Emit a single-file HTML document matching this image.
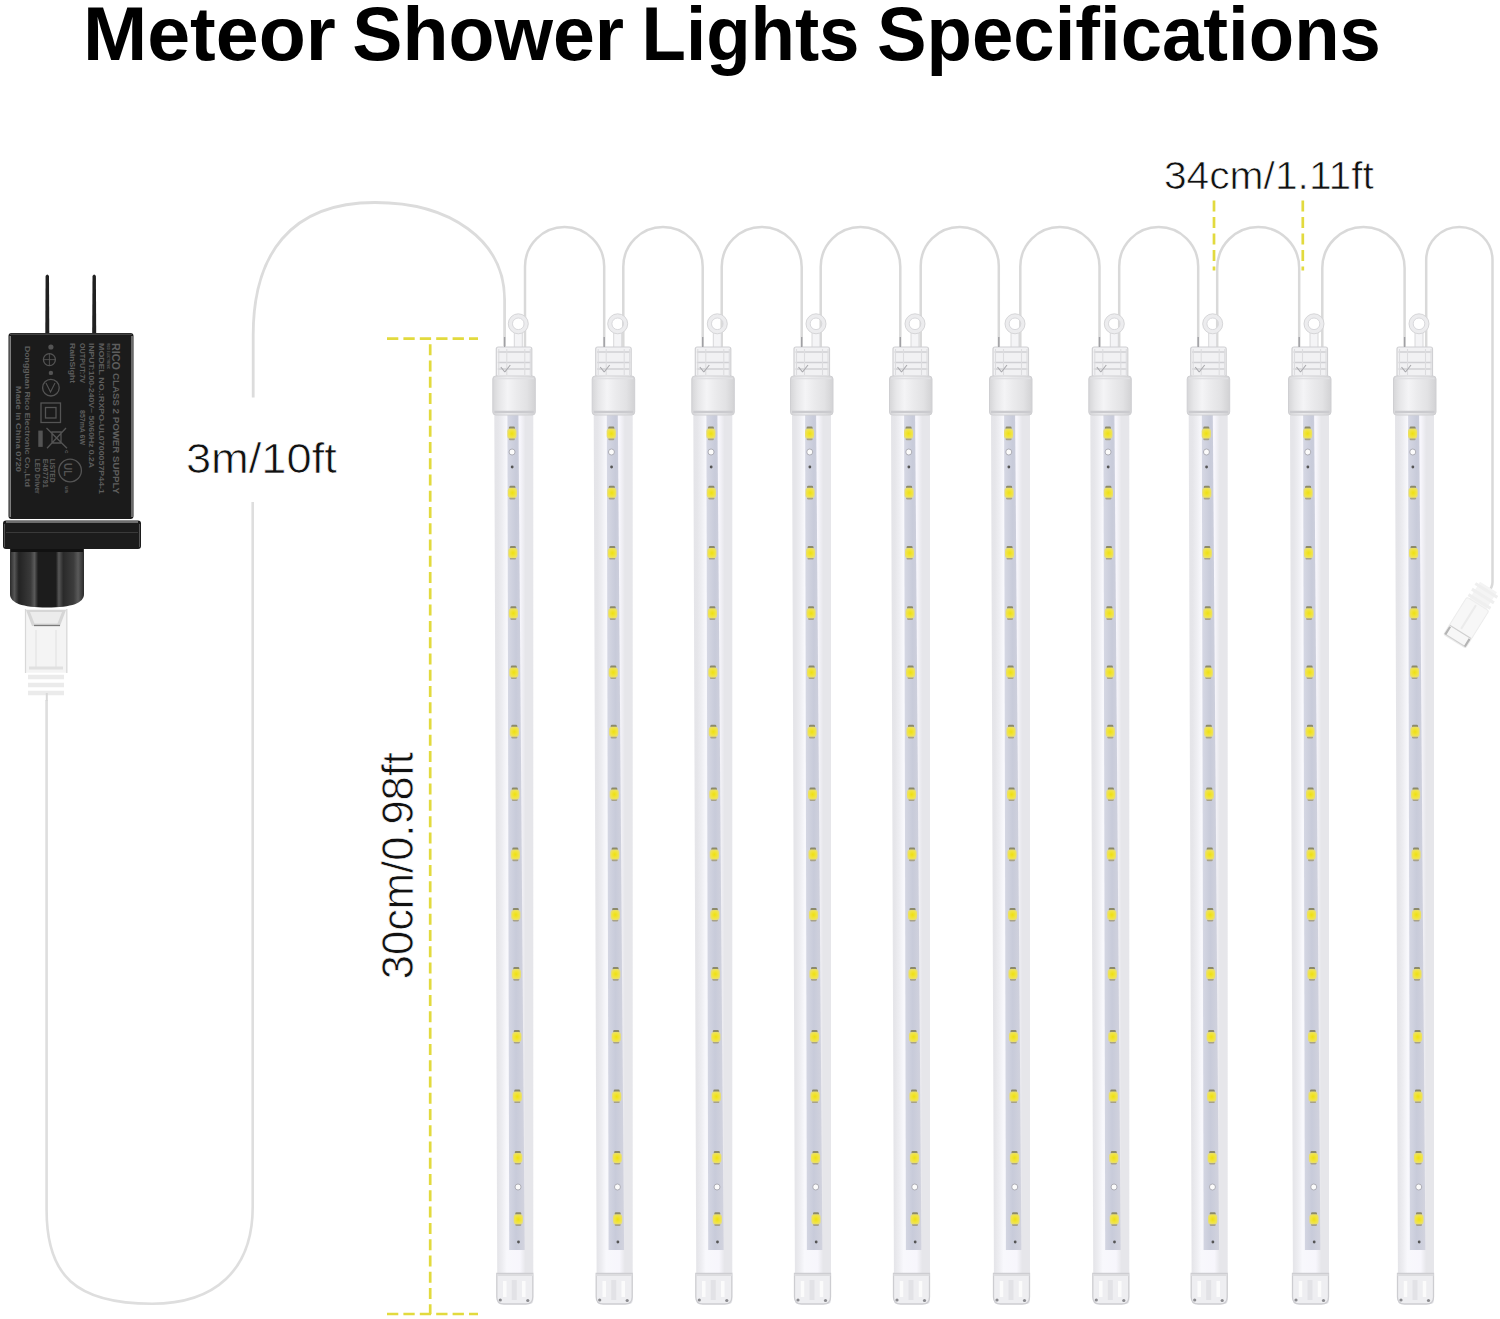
<!DOCTYPE html>
<html><head><meta charset="utf-8"><style>
html,body{margin:0;padding:0;background:#fff;width:1500px;height:1319px;overflow:hidden}
svg{position:absolute;left:0;top:0}
text{font-family:"Liberation Sans",sans-serif}
</style></head><body>
<svg width="1500" height="1319" viewBox="0 0 1500 1319">
<defs>
<linearGradient id="tubeg" x1="0" x2="1" y1="0" y2="0">
<stop offset="0" stop-color="#e4e4e8"/><stop offset="0.1" stop-color="#e6e6ea"/><stop offset="0.2" stop-color="#ededf1"/>
<stop offset="0.32" stop-color="#f8f8fc"/><stop offset="0.66" stop-color="#f7f6fc"/><stop offset="0.8" stop-color="#e6e6ea"/><stop offset="1" stop-color="#e6e6ea"/>
</linearGradient>
<linearGradient id="stripg" x1="0" x2="1" y1="0" y2="0">
<stop offset="0" stop-color="#d6d8e4"/><stop offset="0.5" stop-color="#c8cbda"/><stop offset="1" stop-color="#d2d3de"/>
</linearGradient>
<linearGradient id="collarg" x1="0" x2="1" y1="0" y2="0">
<stop offset="0" stop-color="#d6d6d8"/><stop offset="0.15" stop-color="#e6e6e8"/><stop offset="0.35" stop-color="#f4f4f6"/><stop offset="0.55" stop-color="#ebebed"/><stop offset="0.8" stop-color="#e2e2e4"/><stop offset="1" stop-color="#d2d2d4"/>
</linearGradient>
<linearGradient id="cylg" x1="0" x2="1" y1="0" y2="0">
<stop offset="0" stop-color="#2a2a2a"/><stop offset="0.06" stop-color="#555"/><stop offset="0.12" stop-color="#232323"/>
<stop offset="0.28" stop-color="#3a3a3a"/><stop offset="0.33" stop-color="#5a5a5a"/><stop offset="0.38" stop-color="#1c1c1c"/>
<stop offset="0.62" stop-color="#1c1c1c"/><stop offset="0.66" stop-color="#575757"/><stop offset="0.72" stop-color="#2a2a2a"/>
<stop offset="0.86" stop-color="#3c3c3c"/><stop offset="0.92" stop-color="#5a5a5a"/><stop offset="1" stop-color="#2a2a2a"/>
</linearGradient>
<radialGradient id="ledg" cx="0.5" cy="0.5" r="0.6">
<stop offset="0" stop-color="#eee010"/><stop offset="0.55" stop-color="#f1e440"/><stop offset="1" stop-color="#e4dc88"/>
</radialGradient>
<g id="tube">
<path d="M0.5 331 L0.5 348 L8.5 348 L8.5 331 Z" fill="#f4f4f6" stroke="#d8d8da" stroke-width="1"/>
<circle cx="4.5" cy="323.8" r="7.9" fill="none" stroke="#ececee" stroke-width="4.4"/>
<circle cx="4.5" cy="323.8" r="10" fill="none" stroke="#d2d2d5" stroke-width="0.9"/>
<circle cx="4.5" cy="323.8" r="5.8" fill="none" stroke="#d6d6d9" stroke-width="0.9"/>
<rect x="-17.5" y="347" width="35.5" height="30" rx="2" fill="#f1f1f3" stroke="#d0d0d3" stroke-width="1.2"/>
<path d="M-16 352 H17 M-16 362.5 H17 M-16 369 H17" stroke="#cfcfd3" stroke-width="1.3"/>
<path d="M-15 349 V375 M-7 349 V375 M11 349 V375 M16.5 349 V375" stroke="#dcdcdf" stroke-width="1.1"/>
<path d="M-9 372 L-3.5 365 M-9 372 L-13 367" stroke="#a8a8ac" stroke-width="1.1"/>
<path d="M-19.5 412 H19.5 V1300 Q19.5 1304 16 1304 H-13 Q-16.5 1304 -16.5 1300 Z" fill="url(#tubeg)"/>
<path d="M-6.4 414 H4.6 L10.9 1250 H-4.6 Z" fill="url(#stripg)"/>
<rect x="-21" y="376" width="42.5" height="39" rx="3" fill="url(#collarg)" stroke="#cfcfd2" stroke-width="1"/>
<path d="M-19.5 412 H20" stroke="#cacace" stroke-width="2.4"/>
<path d="M-19.5 378.5 H20" stroke="#e0e0e3" stroke-width="1.6"/>
<rect x="-4.90" y="426.6" width="6" height="3" rx="1.2" fill="#8c8a6a"/>
<rect x="-4.90" y="437.6" width="6" height="2.6" rx="1.2" fill="#a8a288"/>
<rect x="-6.50" y="428.6" width="9.2" height="10" rx="2.6" fill="url(#ledg)"/>
<rect x="-4.41" y="485.8" width="6" height="3" rx="1.2" fill="#8c8a6a"/>
<rect x="-4.41" y="496.8" width="6" height="2.6" rx="1.2" fill="#a8a288"/>
<rect x="-6.01" y="487.8" width="9.2" height="10" rx="2.6" fill="url(#ledg)"/>
<rect x="-3.92" y="546.0" width="6" height="3" rx="1.2" fill="#8c8a6a"/>
<rect x="-3.92" y="557.0" width="6" height="2.6" rx="1.2" fill="#a8a288"/>
<rect x="-5.52" y="548.0" width="9.2" height="10" rx="2.6" fill="url(#ledg)"/>
<rect x="-3.43" y="606.3" width="6" height="3" rx="1.2" fill="#8c8a6a"/>
<rect x="-3.43" y="617.3" width="6" height="2.6" rx="1.2" fill="#a8a288"/>
<rect x="-5.03" y="608.3" width="9.2" height="10" rx="2.6" fill="url(#ledg)"/>
<rect x="-2.95" y="665.4" width="6" height="3" rx="1.2" fill="#8c8a6a"/>
<rect x="-2.95" y="676.4" width="6" height="2.6" rx="1.2" fill="#a8a288"/>
<rect x="-4.55" y="667.4" width="9.2" height="10" rx="2.6" fill="url(#ledg)"/>
<rect x="-2.47" y="724.8" width="6" height="3" rx="1.2" fill="#8c8a6a"/>
<rect x="-2.47" y="735.8" width="6" height="2.6" rx="1.2" fill="#a8a288"/>
<rect x="-4.07" y="726.8" width="9.2" height="10" rx="2.6" fill="url(#ledg)"/>
<rect x="-1.96" y="787.4" width="6" height="3" rx="1.2" fill="#8c8a6a"/>
<rect x="-1.96" y="798.4" width="6" height="2.6" rx="1.2" fill="#a8a288"/>
<rect x="-3.56" y="789.4" width="9.2" height="10" rx="2.6" fill="url(#ledg)"/>
<rect x="-1.47" y="847.6" width="6" height="3" rx="1.2" fill="#8c8a6a"/>
<rect x="-1.47" y="858.6" width="6" height="2.6" rx="1.2" fill="#a8a288"/>
<rect x="-3.07" y="849.6" width="9.2" height="10" rx="2.6" fill="url(#ledg)"/>
<rect x="-0.98" y="907.9" width="6" height="3" rx="1.2" fill="#8c8a6a"/>
<rect x="-0.98" y="918.9" width="6" height="2.6" rx="1.2" fill="#a8a288"/>
<rect x="-2.58" y="909.9" width="9.2" height="10" rx="2.6" fill="url(#ledg)"/>
<rect x="-0.50" y="967.1" width="6" height="3" rx="1.2" fill="#8c8a6a"/>
<rect x="-0.50" y="978.1" width="6" height="2.6" rx="1.2" fill="#a8a288"/>
<rect x="-2.10" y="969.1" width="9.2" height="10" rx="2.6" fill="url(#ledg)"/>
<rect x="0.02" y="1029.9" width="6" height="3" rx="1.2" fill="#8c8a6a"/>
<rect x="0.02" y="1040.9" width="6" height="2.6" rx="1.2" fill="#a8a288"/>
<rect x="-1.58" y="1031.9" width="9.2" height="10" rx="2.6" fill="url(#ledg)"/>
<rect x="0.50" y="1089.5" width="6" height="3" rx="1.2" fill="#8c8a6a"/>
<rect x="0.50" y="1100.5" width="6" height="2.6" rx="1.2" fill="#a8a288"/>
<rect x="-1.10" y="1091.5" width="9.2" height="10" rx="2.6" fill="url(#ledg)"/>
<rect x="1.00" y="1150.9" width="6" height="3" rx="1.2" fill="#8c8a6a"/>
<rect x="1.00" y="1161.9" width="6" height="2.6" rx="1.2" fill="#a8a288"/>
<rect x="-0.60" y="1152.9" width="9.2" height="10" rx="2.6" fill="url(#ledg)"/>
<rect x="1.50" y="1212.3" width="6" height="3" rx="1.2" fill="#8c8a6a"/>
<rect x="1.50" y="1223.3" width="6" height="2.6" rx="1.2" fill="#a8a288"/>
<rect x="-0.10" y="1214.3" width="9.2" height="10" rx="2.6" fill="url(#ledg)"/>
<circle cx="-1.75" cy="452" r="3" fill="#fbfbfb" stroke="#a0a0a8" stroke-width="0.8"/>
<circle cx="4.24" cy="1187" r="3" fill="#fbfbfb" stroke="#a0a0a8" stroke-width="0.8"/>
<circle cx="-1.62" cy="467" r="1.4" fill="#555"/>
<circle cx="4.69" cy="1242" r="1.4" fill="#555"/>
<path d="M-17 1273.5 H19 V1297 Q19 1304 12 1304 H-10 Q-17 1304 -17 1297 Z" fill="#eeeef1" stroke="#cdcdd1" stroke-width="1.3"/>
<path d="M-17 1275 H19" stroke="#dcdcdf" stroke-width="2"/>
<path d="M-9 1281 V1297 M10 1281 V1297" stroke="#fbfbfb" stroke-width="3.5"/>
<path d="M0.5 1280 V1300" stroke="#e2e2e6" stroke-width="5"/>
<circle cx="-13.5" cy="1300" r="1.6" fill="#8a8a8e"/><circle cx="14" cy="1300.5" r="1.6" fill="#8a8a8e"/>
</g>
</defs>
<g font-weight="bold" font-size="76" fill="#000">
<text x="83" y="60" textLength="252.8" lengthAdjust="spacingAndGlyphs">Meteor</text>
<text x="352.3" y="60" textLength="271.8" lengthAdjust="spacingAndGlyphs">Shower</text>
<text x="641.6" y="60" textLength="217.9" lengthAdjust="spacingAndGlyphs">Lights</text>
<text x="877" y="60" textLength="503.9" lengthAdjust="spacingAndGlyphs">Specifications</text>
</g>
<!-- power cord -->
<path d="M253.2 397.6 V335 C253.2 255 290 202.5 375 202.5 C450 202.5 504.6 240 504.6 300 V346" fill="none" stroke="#dcdcdc" stroke-width="2.8"/>
<path d="M252.7 502 V1207 C252.7 1270 215 1303.7 152 1303.7 C75 1303.7 46.6 1275 46.6 1210 V700" fill="none" stroke="#dedede" stroke-width="2.6"/>
<path d="M525 348 V266.6 A39.60 39.60 0 0 1 604.2 266.6 V348" fill="none" stroke="#d9d9d9" stroke-width="2.5"/><path d="M623.3 348 V266.7 A39.70 39.70 0 0 1 702.7 266.7 V348" fill="none" stroke="#d9d9d9" stroke-width="2.5"/><path d="M721.7 348 V267.0 A40.00 40.00 0 0 1 801.7 267.0 V348" fill="none" stroke="#d9d9d9" stroke-width="2.5"/><path d="M820.7 348 V266.8 A39.80 39.80 0 0 1 900.3 266.8 V348" fill="none" stroke="#d9d9d9" stroke-width="2.5"/><path d="M920.7 348 V266.0 A39.05 39.05 0 0 1 998.8 266.0 V348" fill="none" stroke="#d9d9d9" stroke-width="2.5"/><path d="M1020.3 348 V266.6 A39.60 39.60 0 0 1 1099.5 266.6 V348" fill="none" stroke="#d9d9d9" stroke-width="2.5"/><path d="M1119.2 348 V266.5 A39.50 39.50 0 0 1 1198.2 266.5 V348" fill="none" stroke="#d9d9d9" stroke-width="2.5"/><path d="M1217.2 348 V268.0 A41.00 41.00 0 0 1 1299.2 268.0 V348" fill="none" stroke="#d9d9d9" stroke-width="2.5"/><path d="M1322.3 348 V268.1 A41.15 41.15 0 0 1 1404.6 268.1 V348" fill="none" stroke="#d9d9d9" stroke-width="2.5"/><path d="M1426.2 348 V260.1 A33.15 33.15 0 0 1 1492.5 260.1 V582 Q1492.5 588 1488 591" fill="none" stroke="#d9d9d9" stroke-width="2.5"/>
<use href="#tube" x="513.8"/>
<use href="#tube" x="613.2"/>
<use href="#tube" x="712.8"/>
<use href="#tube" x="811.5"/>
<use href="#tube" x="910.5"/>
<use href="#tube" x="1010.5"/>
<use href="#tube" x="1109.8"/>
<use href="#tube" x="1208.2"/>
<use href="#tube" x="1309.5"/>
<use href="#tube" x="1414.5"/>
<path d="M504.6 337 V347" stroke="#a0a0a4" stroke-width="1.4"/><path d="M604.2 337 V347" stroke="#a0a0a4" stroke-width="1.4"/><path d="M702.7 337 V347" stroke="#a0a0a4" stroke-width="1.4"/><path d="M801.7 337 V347" stroke="#a0a0a4" stroke-width="1.4"/><path d="M900.3 337 V347" stroke="#a0a0a4" stroke-width="1.4"/><path d="M998.8 337 V347" stroke="#a0a0a4" stroke-width="1.4"/><path d="M1099.5 337 V347" stroke="#a0a0a4" stroke-width="1.4"/><path d="M1198.2 337 V347" stroke="#a0a0a4" stroke-width="1.4"/><path d="M1299.2 337 V347" stroke="#a0a0a4" stroke-width="1.4"/><path d="M1404.6 337 V347" stroke="#a0a0a4" stroke-width="1.4"/>
<g transform="translate(1471,615) rotate(32)">
<rect x="-10" y="-33" width="20" height="20" fill="#f4f4f4"/>
<path d="M-13 -29 H13 M-13 -22.5 H13 M-13 -16 H13" stroke="#efefef" stroke-width="3.2"/>
<rect x="-13" y="-13" width="26" height="44" rx="2" fill="#f7f7f7" stroke="#ececec" stroke-width="1"/>
<path d="M-12.5 20 H12.5 M-12.5 30 H12.5" stroke="#d0d0d0" stroke-width="1.2"/>
<path d="M-11.5 21 V30 M11.5 21 V30" stroke="#b4b4b4" stroke-width="2.2"/>
<path d="M-1 -11 V17" stroke="#ebebeb" stroke-width="2"/>
</g>

<g id="adapter">
<path d="M45.3 333 L45.6 276 Q47.3 273 49 276 L49.3 333 Z" fill="#202020"/>
<path d="M92.2 333 L92.5 276 Q94.2 273 95.9 276 L96.2 333 Z" fill="#202020"/>
<rect x="8.5" y="333" width="125" height="186" rx="3" fill="#1b1b1b"/>
<path d="M10.2 336 V517 M132 336 V517" stroke="#8a8a8a" stroke-width="1.4"/>
<path d="M10 334.2 H132" stroke="#555" stroke-width="1"/>

<g fill="#5e5e5e" font-family="Liberation Sans" font-weight="bold">
<text transform="translate(112,343) rotate(90)" font-size="10.5" textLength="27" lengthAdjust="spacingAndGlyphs">RICO</text>
<text transform="translate(112.5,373) rotate(90)" font-size="8.3" textLength="121" lengthAdjust="spacingAndGlyphs">CLASS 2 POWER SUPPLY</text>
<text transform="translate(106.5,343) rotate(90)" font-size="3.5" textLength="26" lengthAdjust="spacingAndGlyphs">RICO ELECTRONIC</text>
<text transform="translate(98.7,343) rotate(90)" font-size="7.8" textLength="151" lengthAdjust="spacingAndGlyphs">MODEL NO.:RXPO-UL0700057P44-1</text>
<text transform="translate(88.5,343) rotate(90)" font-size="7.8" textLength="125" lengthAdjust="spacingAndGlyphs">INPUT:100-240V~ 50/60Hz 0.2A</text>
<text transform="translate(79.5,343) rotate(90)" font-size="7.8" textLength="40" lengthAdjust="spacingAndGlyphs">OUTPUT:7V</text>
<text transform="translate(79.5,410) rotate(90)" font-size="7.8" textLength="35" lengthAdjust="spacingAndGlyphs">857mA 6W</text>
<text transform="translate(69.7,343) rotate(90)" font-size="7.8" textLength="40" lengthAdjust="spacingAndGlyphs">RainSight</text>
<text transform="translate(25.3,346) rotate(90)" font-size="7.8" textLength="141" lengthAdjust="spacingAndGlyphs">Dongguan Rico Electronic Co.,Ltd</text>
<text transform="translate(15.7,386) rotate(90)" font-size="7.8" textLength="86" lengthAdjust="spacingAndGlyphs">Made in China  0720</text>
<text transform="translate(49.5,458.7) rotate(90)" font-size="7" textLength="24" lengthAdjust="spacingAndGlyphs">LISTED</text>
<text transform="translate(42.6,458.7) rotate(90)" font-size="7" textLength="29" lengthAdjust="spacingAndGlyphs">E467791</text>
<text transform="translate(35.4,458.7) rotate(90)" font-size="7" textLength="35" lengthAdjust="spacingAndGlyphs">LED Driver</text>
<text transform="translate(64.5,450) rotate(90)" font-size="6">c</text>
<text transform="translate(64.5,486) rotate(90)" font-size="6">us</text>
</g>
<g fill="none" stroke="#545454" stroke-width="1.3">
<circle cx="49.4" cy="359.6" r="6"/>
<path d="M44 359.6 H55 M49.4 354 V365" stroke-width="0.9"/>
<circle cx="50.9" cy="387.7" r="8.3"/>
<path d="M46 383 L50.5 392 L55 383" stroke-width="1.1"/>
<rect x="41" y="403" width="19.5" height="19.5"/>
<rect x="45.5" y="407.5" width="10.5" height="10.5"/>
<path d="M46.5 428 L67 448.3 M66 428 L47 448.3 M52 432 h9 v11 h-9z"/>
<circle cx="70.1" cy="470.5" r="11.3"/>
</g>
<g fill="#545454">
<circle cx="50.9" cy="347" r="2.6"/><circle cx="50.9" cy="372.9" r="2.2"/>
<rect x="38.3" y="430.6" width="4.4" height="16.3"/>
<text transform="translate(64,463) rotate(90)" font-size="10" font-weight="bold" font-family="Liberation Sans">UL</text>
</g>

<rect x="3" y="520.5" width="138" height="28.5" rx="3" fill="#1c1c1c"/>
<path d="M6 522 H138" stroke="#8a8a8a" stroke-width="1.6"/>
<path d="M6 532.5 H138" stroke="#3a3a3a" stroke-width="1"/>
<path d="M4.5 524 V547 M139.5 524 V547" stroke="#555" stroke-width="1"/>
<path d="M10 549 H84 V594 C84 603 72 607.5 47 607.5 C22 607.5 10 603 10 594 Z" fill="url(#cylg)"/>
<path d="M11 550.5 H83" stroke="#111" stroke-width="3"/>
<!-- plug -->
<path d="M25 609 H67.3 V672.7 H25 Z" fill="#f4f4f4"/>
<path d="M25.5 609 V673 M66.8 609 V673" stroke="#d8d8d8" stroke-width="1.2"/>
<path d="M26 610 L32 626 H60 L66 610 Z" fill="#d6d6d6"/>
<path d="M30 612 L34.5 623.5 H57.5 L62 612 Z" fill="#ececec"/>
<path d="M34 625.5 H60" stroke="#7a7a7a" stroke-width="1.3"/>
<path d="M36 630 V668 M56 630 V668" stroke="#e6e6e6" stroke-width="1.5"/>
<path d="M28 677 H64 M28 685 H64 M28 693 H64" stroke="#ebebeb" stroke-width="4.5"/>
<path d="M29 668 H63" stroke="#e0e0e0" stroke-width="3"/>
<path d="M46.8 693 V701" stroke="#d8d8d8" stroke-width="2"/>
</g>

<g fill="#111" stroke="#fff" stroke-width="0.7">
<text x="185.9" y="473.2" font-size="42.6" textLength="151" lengthAdjust="spacingAndGlyphs">3m/10ft</text>
<text x="1163.9" y="189.2" font-size="39.4" textLength="210" lengthAdjust="spacingAndGlyphs">34cm/1.11ft</text>
<text transform="translate(413.2,979.2) rotate(-90)" font-size="43.6" textLength="227.1" lengthAdjust="spacingAndGlyphs">30cm/0.98ft</text>
</g>
<g stroke="#e2da3e" stroke-width="2.7" fill="none">
<path d="M387 338.6 H478" stroke-dasharray="11.3 5.1"/>
<path d="M387 1314 H478" stroke-dasharray="11.3 5.1"/>
<path d="M430.2 344.3 V1314" stroke-dasharray="11 5.27"/>
<path d="M1214 200.6 V270.5" stroke-dasharray="11 5.5"/>
<path d="M1302.8 200.6 V270.5" stroke-dasharray="11 5.5"/>
</g>
</svg>
</body></html>
